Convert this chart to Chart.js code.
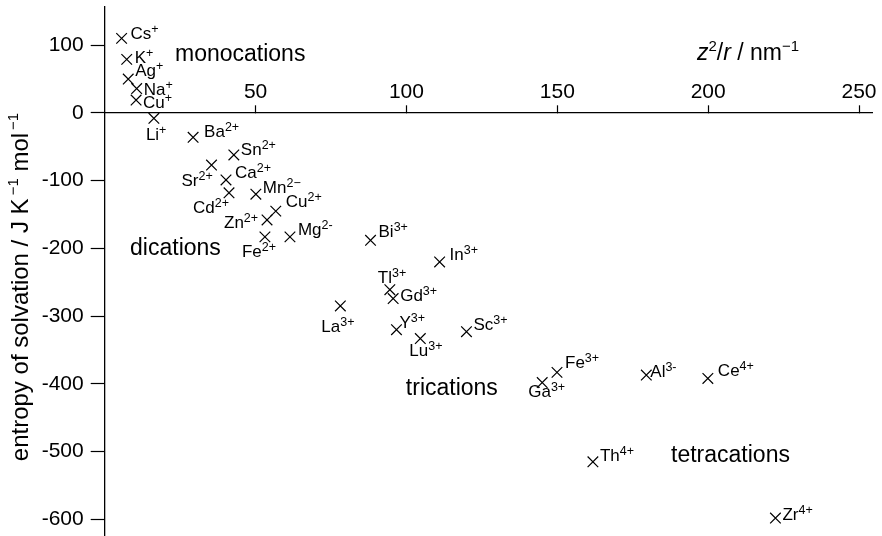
<!DOCTYPE html>
<html>
<head>
<meta charset="utf-8">
<script src="https://cdn.jsdelivr.net/npm/chart.js@4/dist/chart.umd.min.js"></script>
<style>
  html, body { margin: 0; padding: 0; background: #fff; }
  canvas { display: block; }
</style>
</head>
<body>
<canvas id="c" width="882" height="536"></canvas>
<script>
// Entropy of solvation of metal ions against z^2/r
const ions    = ['Cs','K','Ag','Na','Cu','Li','Ba','Sn','Sr','Ca','Cd','Mn','Cu','Zn','Fe','Mg',
                 'Bi','In','Tl','Gd','La','Y','Lu','Sc','Fe','Ga','Al','Ce','Th','Zr'];
const charges = ['+','+','+','+','+','+','2+','2+','2+','2+','2+','2\u2212','2+','2+','2+','2-',
                 '3+','3+','3+','3+','3+','3+','3+','3+','3+','3+','3-','4+','4+','4+'];
const z2r     = [5.6, 7.3, 7.8, 10.6, 10.4, 16.3, 29.3, 42.8, 35.4, 40.2, 41.2, 50.1, 56.7, 53.8, 53.1, 61.4,
                 88.1, 111, 94.5, 95.6, 78.1, 96.7, 104.6, 119.9, 149.9, 145, 179.5, 199.9, 161.8, 222.3];
const entropy = [110, 79, 50, 36, 19, -8, -36, -62, -77, -99, -118, -120, -145, -158, -183, -183,
                 -188, -220, -261, -274, -285, -320, -333, -323, -383, -398, -387, -392, -515, -598];

const xTicks = [50, 100, 150, 200, 250];
const yTicks = [100, 0, -100, -200, -300, -400, -500, -600];

// group captions, anchored in data units
const groupNames = ['monocations', 'dications', 'trications', 'tetracations'];
const groupX     = [23.3, 8.4, 99.8, 187.7];
const groupY     = [76.6, -209.7, -416.3, -514.6];

// label placement: offset (px) of the label's left/baseline from its marker
const labelDX = [9, 8, 7, 7, 7, -8, 11, 7, -30, 9, -36, 7, 10, -43, -23, 8,
                 8, 10, -12, 7, -19, 3, -11, 7, 8, -14, 4, 10, 7, 7];
const labelDY = [1, 4, -3, 6, 8, 22, 0, 0, 21, -2, 20, -1, -4, 8, 20, -2,
                 -3, -2, -7, 2, 26, -2, 17, -2, -4, 14, 2, -2, -1, 2];

const FONT = "'Liberation Sans', Arial, Helvetica, sans-serif";

function drawSupText(ctx, x, y, base, sup, size, supSize, raise) {
  ctx.font = size + 'px ' + FONT;
  ctx.fillText(base, x, y);
  const w = ctx.measureText(base).width;
  ctx.font = supSize + 'px ' + FONT;
  ctx.fillText(sup, x + w, y - raise);
}

const annotations = {
  id: 'annotations',
  afterDatasetsDraw(chart) {
    const ctx = chart.ctx;
    const xs = chart.scales.x, ys = chart.scales.y;
    ctx.save();
    ctx.fillStyle = '#000';
    ctx.textBaseline = 'alphabetic';
    ctx.textAlign = 'left';
    // ion labels
    const meta = chart.getDatasetMeta(0);
    meta.data.forEach((pt, i) => {
      drawSupText(ctx, pt.x + labelDX[i], pt.y + labelDY[i], ions[i], charges[i], 17, 12.5, 6);
    });
    // group captions
    ctx.font = '23px ' + FONT;
    groupNames.forEach((name, i) => {
      ctx.fillText(name, xs.getPixelForValue(groupX[i]), ys.getPixelForValue(groupY[i]));
    });
    ctx.restore();
  },
  afterDraw(chart) {
    const ctx = chart.ctx;
    ctx.save();
    ctx.fillStyle = '#000';
    ctx.textBaseline = 'alphabetic';
    // vertical axis title
    ctx.translate(28, 287);
    ctx.rotate(-Math.PI / 2);
    const parts = [
      ['entropy of solvation / J K', 24, 0],
      ['\u2009\u22121', 15, 10],
      [' mol', 24, 0],
      ['\u2009\u22121', 15, 10]
    ];
    let total = 0;
    parts.forEach(p => { ctx.font = p[1] + 'px ' + FONT; total += ctx.measureText(p[0]).width; });
    let x = -total / 2;
    parts.forEach(p => {
      ctx.font = p[1] + 'px ' + FONT;
      ctx.fillText(p[0], x, -p[2]);
      x += ctx.measureText(p[0]).width;
    });
    ctx.restore();

    // horizontal axis title: z^2/r / nm^-1
    ctx.save();
    ctx.fillStyle = '#000';
    ctx.textBaseline = 'alphabetic';
    let px = 697, py = 60;
    const seg = [
      ['z', 'italic 23px ', 0],
      ['2', '15px ', 9],
      ['/', '23px ', 0],
      ['r', 'italic 23px ', 0],
      [' / nm', '23px ', 0],
      ['\u22121', '15px ', 9]
    ];
    seg.forEach(s => {
      ctx.font = s[1] + FONT;
      ctx.fillText(s[0], px, py - s[2]);
      px += ctx.measureText(s[0]).width;
    });
    ctx.restore();
  }
};

new Chart(document.getElementById('c'), {
  type: 'scatter',
  data: {
    datasets: [{
      data: z2r.map((v, i) => ({ x: v, y: entropy[i] })),
      pointStyle: 'crossRot',
      pointRadius: 7.5,
      pointHoverRadius: 7.5,
      borderColor: '#000',
      backgroundColor: '#000',
      borderWidth: 1.2
    }]
  },
  options: {
    responsive: false,
    animation: false,
    devicePixelRatio: 1,
    layout: { autoPadding: false, padding: { top: 7, right: 10, bottom: 0, left: 0 } },
    plugins: { legend: { display: false }, tooltip: { enabled: false } },
    scales: {
      x: {
        type: 'linear',
        position: { y: 0 },
        min: 0,
        max: 254.3,
        afterBuildTicks: s => { s.ticks = xTicks.map(v => ({ value: v })); },
        afterFit: s => { s.height = 0; s.paddingLeft = 0; s.paddingRight = 0; },
        grid: { drawOnChartArea: false, tickLength: -8, color: '#000', tickWidth: 1.2 },
        border: { color: '#000', width: 1.3 },
        ticks: {
          color: '#000', padding: -25, maxRotation: 0, autoSkip: false,
          font: { family: FONT, size: 21 },
          callback: v => String(v)
        }
      },
      y: {
        type: 'linear',
        position: 'left',
        min: -624.5,
        max: 156.3,
        afterBuildTicks: s => { s.ticks = yTicks.map(v => ({ value: v })); },
        afterFit: s => { s.width = 104.7; s.paddingTop = 0; s.paddingBottom = 0; },
        grid: { drawOnChartArea: false, tickLength: 14, color: '#000', tickWidth: 1.2 },
        border: { color: '#000', width: 1.3 },
        ticks: {
          color: '#000', padding: 7, autoSkip: false,
          font: { family: FONT, size: 21 },
          callback: v => String(v)
        }
      }
    }
  },
  plugins: [annotations]
});
</script>
</body>
</html>
